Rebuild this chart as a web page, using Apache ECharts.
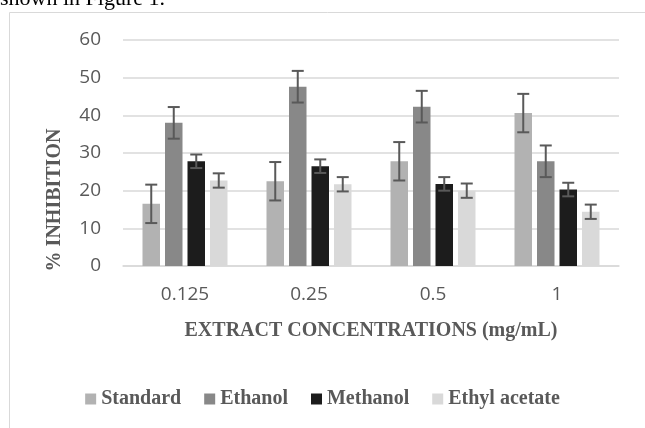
<!DOCTYPE html>
<html>
<head>
<meta charset="utf-8">
<script src="https://cdn.jsdelivr.net/npm/echarts@6/dist/echarts.min.js"></script>
<style>
  html, body { margin: 0; padding: 0; background: #fff; }
  #chart { width: 645px; height: 428px; }
</style>
</head>
<body>
<div id="chart"></div>
<script>
var categories = ['0.125', '0.25', '0.5', '1']
var seriesNames = ['Standard', 'Ethanol', 'Methanol', 'Ethyl acetate']
var standard = [16.5, 22.5, 27.8, 40.6]
var ethanol = [38.0, 47.6, 42.3, 27.8]
var methanol = [27.8, 26.5, 21.8, 20.3]
var ethylAcetate = [22.7, 21.7, 20.0, 14.4]
// error bar half-widths, one per series
var errors = [5.1, 4.2, 1.8, 1.9]
var colors = ['#b2b2b2', '#888888', '#1c1c1c', '#d9d9d9']

var values = [standard, ethanol, methanol, ethylAcetate]
var barW = 17.5
var gapW = 5

var errData = []
values.forEach(function(arr, s) {
  arr.forEach(function(v, c) {
    errData.push([c, v - errors[s], v + errors[s], s])
  })
})

function renderError(params, api) {
  var c = api.value(0)
  var s = api.value(3)
  var base = api.coord([c, 0])
  var lo = api.coord([c, api.value(1)])
  var hi = api.coord([c, api.value(2)])
  var groupW = 4 * barW + 3 * gapW
  var x = base[0] - groupW / 2 + s * (barW + gapW) + barW / 2
  var cap = 6
  var style = { stroke: '#595959', lineWidth: 2 }
  return {
    type: 'group',
    children: [
      { type: 'line', shape: { x1: x, y1: lo[1], x2: x, y2: hi[1] }, style: style },
      { type: 'line', shape: { x1: x - cap, y1: lo[1], x2: x + cap, y2: lo[1] }, style: style },
      { type: 'line', shape: { x1: x - cap, y1: hi[1], x2: x + cap, y2: hi[1] }, style: style }
    ]
  }
}

var chart = echarts.init(document.getElementById('chart'))
var serif = '"Liberation Serif", "Times New Roman", serif'
var sans = '"Open Sans", Calibri, sans-serif'

chart.setOption({
  animation: false,
  color: colors,
  graphic: [
    {
      type: 'rect',
      shape: { x: 9.5, y: 12.5, width: 700, height: 500 },
      style: { fill: 'none', stroke: '#d9d9d9', lineWidth: 1 }
    },
    {
      type: 'text',
      left: 0,
      top: -12,
      style: { text: 'shown in Figure 1.', font: '22px ' + serif, fill: '#000' }
    },
    {
      type: 'text',
      x: 55,
      y: 200,
      rotation: Math.PI / 2,
      style: {
        text: '% INHIBITION',
        font: 'bold 20px ' + serif,
        fill: '#595959',
        align: 'center',
        verticalAlign: 'middle'
      }
    }
  ],
  grid: {
    left: 123,
    right: 26,
    top: 40,
    bottom: 162
  },
  legend: {
    data: seriesNames,
    left: 'center',
    top: 384,
    itemWidth: 11,
    itemHeight: 11,
    itemGap: 23,
    icon: 'rect',
    textStyle: {
      fontFamily: serif,
      fontWeight: 'bold',
      fontSize: 20,
      color: '#595959'
    }
  },
  xAxis: {
    type: 'category',
    data: categories,
    name: 'EXTRACT CONCENTRATIONS (mg/mL)',
    nameLocation: 'middle',
    nameGap: 55,
    nameTextStyle: {
      fontFamily: serif,
      fontWeight: 'bold',
      fontSize: 20,
      color: '#595959'
    },
    axisTick: { show: false },
    axisLine: { lineStyle: { color: '#d9d9d9', width: 1.5 } },
    axisLabel: { fontFamily: sans, fontSize: 19, color: '#595959', margin: 19 }
  },
  yAxis: {
    type: 'value',
    min: 0,
    max: 60,
    interval: 10,
    axisLabel: { fontFamily: sans, fontSize: 19, color: '#595959', margin: 22 },
    splitLine: { lineStyle: { color: '#d9d9d9', width: 1.5 } },
    axisLine: { show: false },
    axisTick: { show: false }
  },
  series: values.map(function(arr, i) {
    return {
      name: seriesNames[i],
      type: 'bar',
      data: arr,
      barWidth: barW,
      barGap: (gapW / barW * 100) + '%',
      itemStyle: { color: colors[i] }
    }
  }).concat([{
    type: 'custom',
    renderItem: renderError,
    data: errData,
    encode: { x: 0, y: [1, 2] },
    z: 10,
    silent: true
  }])
})
</script>
</body>
</html>
